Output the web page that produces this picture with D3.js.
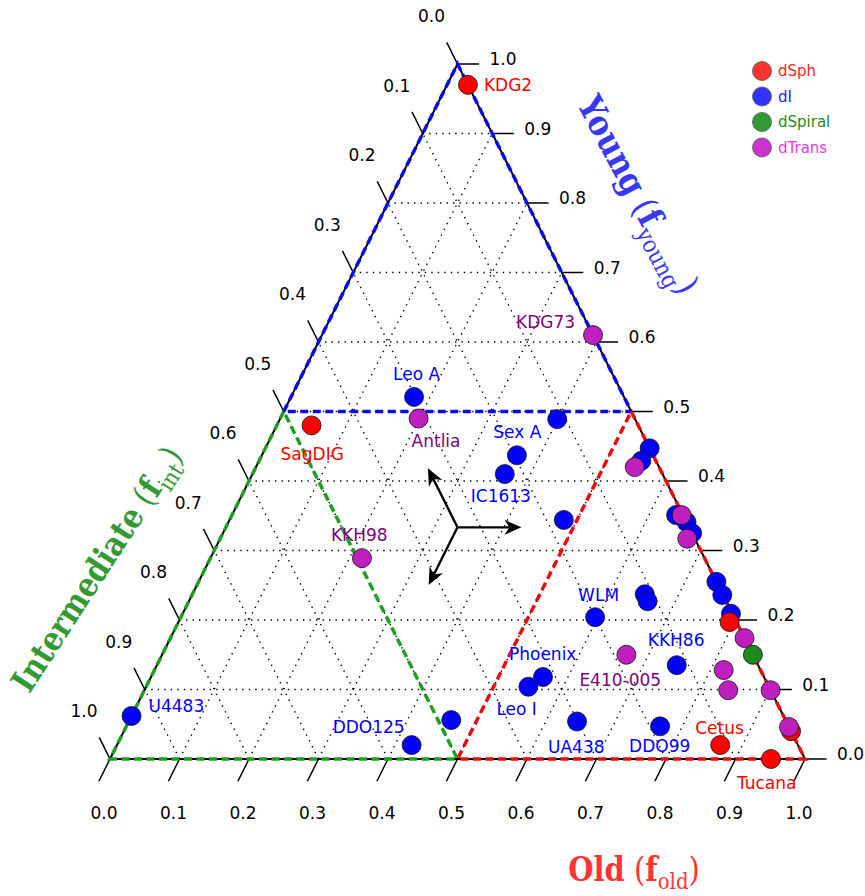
<!DOCTYPE html>
<html><head><meta charset="utf-8">
<script src="https://cdn.jsdelivr.net/npm/d3@7"></script>
<style>body{margin:0;background:#fff;} svg{display:block;}</style>
</head><body>
<svg id="chart" width="865" height="896"></svg>
<script>
// ---------------- data ----------------
const galaxyNames = ["KDG2","SagDIG","","Cetus","Tucana","",
  "",
  "KDG73","Antlia","KKH98","","","","E410-005","","","","","",
  "U4483","Leo A","Sex A","","IC1613","","","","","","","","","","WLM","","","KKH86","Phoenix","Leo I","","DDO125","UA438","DDO99"];
const galaxyTypes = ["dSph","dSph","dSph","dSph","dSph","dSph",
  "dSpiral",
  "dTrans","dTrans","dTrans","dTrans","dTrans","dTrans","dTrans","dTrans","dTrans","dTrans","dTrans","dTrans",
  "dI","dI","dI","dI","dI","dI","dI","dI","dI","dI","dI","dI","dI","dI","dI","dI","dI","dI","dI","dI","dI","dI","dI","dI"];
const fYoung = [0.97,0.48,0.197,0.02,0.0,0.04,
  0.15,
  0.61,0.49,0.289,0.42,0.351,0.317,0.15,0.174,0.128,0.099,0.099,0.046,
  0.062,0.521,0.489,0.437,0.41,0.344,0.447,0.429,0.351,0.341,0.325,0.255,0.236,0.209,0.204,0.237,0.227,0.135,0.118,0.104,0.056,0.02,0.054,0.047];
const fOld = [0.03,0.05,0.793,0.868,0.951,0.96,
  0.85,
  0.39,0.199,0.218,0.545,0.647,0.672,0.668,0.826,0.819,0.84,0.901,0.954,
  0.0,0.177,0.399,0.367,0.363,0.481,0.553,0.55,0.639,0.659,0.675,0.745,0.763,0.789,0.596,0.651,0.66,0.748,0.564,0.55,0.463,0.424,0.645,0.768];
const fInt = [0.0,0.47,0.01,0.112,0.049,0.0,
  0.0,
  0.0,0.311,0.493,0.035,0.002,0.011,0.182,0.0,0.053,0.061,0.0,0.0,
  0.938,0.302,0.112,0.196,0.227,0.175,0.0,0.021,0.01,0.0,0.0,0.0,0.001,0.002,0.2,0.112,0.113,0.117,0.318,0.346,0.481,0.556,0.301,0.185];
const typeNames = ["dSph","dI","dSpiral","dTrans"];
const tickValues = [0,0.1,0.2,0.3,0.4,0.5,0.6,0.7,0.8,0.9,1.0];
const tickLabels = ["0.0","0.1","0.2","0.3","0.4","0.5","0.6","0.7","0.8","0.9","1.0"];
const gridValues = [0.1,0.2,0.3,0.4,0.5,0.6,0.7,0.8,0.9];

// ---------------- styles / layout ----------------
const markerColor = {dSph:"#ff0000", dI:"#0000ff", dSpiral:"#1f8a1f", dTrans:"#bf1fbf"};
const labelColor  = {dSph:"#ff0000", dI:"#0000ff", dSpiral:"#008000", dTrans:"#800080"};
const legendMarker = {dSph:"#ff3333", dI:"#3333ff", dSpiral:"#339933", dTrans:"#cc33cc"};
const legendText = {dSph:"#ff2222", dI:"#2222ff", dSpiral:"#228b22", dTrans:"#ee33ee"};
const drawOrder = ["dI","dSph","dTrans","dSpiral"];
const labelOffset = {
  "KDG2":[16,0,"start"], "SagDIG":[-31,29,"start"], "Leo A":[-21,-23,"start"], "Antlia":[-7,23,"start"],
  "Sex A":[-64,13,"start"], "IC1613":[-34,22,"start"], "KKH98":[-31,-23,"start"], "KDG73":[-77,-13,"start"],
  "U4483":[17,-10,"start"], "WLM":[-17,-22,"start"], "KKH86":[-29,-25,"start"], "Phoenix":[-34,-23,"start"],
  "E410-005":[-47,25,"start"], "Leo I":[-32,22,"start"], "DDO125":[-79,-18,"start"], "UA438":[-29,26,"start"],
  "DDO99":[-31,20,"start"], "Cetus":[-25,-17,"start"], "Tucana":[-34,24,"start"]
};

const svg = d3.select("#chart");
const x = d3.scaleLinear().domain([0,1]).range([110,805]);
const y = d3.scaleLinear().domain([0,1]).range([759,64]);
// position from (young, old)
function P(young, old){ return [x(old + young/2), y(young)]; }
const line = d3.line();

// ---------------- grid ----------------
const grid = svg.append("g").attr("stroke","#000").attr("stroke-width",1.4)
  .attr("stroke-dasharray","1.4,5.1").attr("fill","none");
gridValues.forEach(f=>{
  grid.append("path").attr("d", line([P(f,0), P(f,1-f)]));
  grid.append("path").attr("d", line([P(0,f), P(1-f,f)]));
  grid.append("path").attr("d", line([P(0,1-f), P(1-f,0)]));
});

// ---------------- triangle ----------------
svg.append("path").attr("d", line([P(0,0),P(1,0),P(0,1)])+"Z")
  .attr("fill","none").attr("stroke","#000").attr("stroke-width",2);

// ---------------- ticks ----------------
const ticks = svg.append("g").attr("stroke","#000").attr("stroke-width",1.5);
const tl = svg.append("g").attr("font-family","'DejaVu Sans', sans-serif").attr("font-size",17).attr("fill","#000");
tickValues.forEach((v,i)=>{
  // Old (bottom)
  let a = P(0,v), b = P(-0.032, v);
  ticks.append("line").attr("x1",a[0]).attr("y1",a[1]).attr("x2",b[0]).attr("y2",b[1]);
  tl.append("text").attr("x",a[0]-6).attr("y",a[1]+54).attr("text-anchor","middle")
    .attr("dominant-baseline","central").text(tickLabels[i]);
  // Young (right)
  a = P(v,1-v); b = P(v,1-v+0.031);
  ticks.append("line").attr("x1",a[0]).attr("y1",a[1]).attr("x2",b[0]).attr("y2",b[1]);
  tl.append("text").attr("x",a[0]+32).attr("y",a[1]-5).attr("text-anchor","start")
    .attr("dominant-baseline","central").text(tickLabels[i]);
  // Intermediate (left): int = v
  a = P(1-v,0); b = P(1-v+0.031,-0.031);
  ticks.append("line").attr("x1",a[0]).attr("y1",a[1]).attr("x2",b[0]).attr("y2",b[1]);
  tl.append("text").attr("x",a[0]-26).attr("y",a[1]-48).attr("text-anchor","middle")
    .attr("dominant-baseline","central").text(tickLabels[i]);
});

// ---------------- region outlines ----------------
function region(pts, color){
  svg.append("path").attr("d", line(pts)+"Z").attr("fill","none")
    .attr("stroke",color).attr("stroke-width",3.5).attr("stroke-dasharray","8,4.5");
}
region([P(0.5,0),P(1,0),P(0.5,0.5)], "#0a0aee");
region([P(0.5,0),P(0,0),P(0,0.5)], "#1ea01e");
region([P(0.5,0.5),P(0,1),P(0,0.5)], "#ee0a0a");

// ---------------- arrows ----------------
const arrowG = svg.append("g");
const c = [1/3,1/3];
const arrowTips = [[1/3, 1/3+0.092],[1/3+0.085, 1/3-0.085],[1/3-0.083, 1/3]];
arrowTips.forEach(t=>{
  const p0 = P(c[0],c[1]), p1 = P(t[0],t[1]);
  const dx = p1[0]-p0[0], dy = p1[1]-p0[1], L = Math.hypot(dx,dy);
  const ux = dx/L, uy = dy/L, nx = -uy, ny = ux;
  const hl = 17, hw = 7.5, back = 12;
  arrowG.append("line").attr("x1",p0[0]).attr("y1",p0[1])
    .attr("x2",p1[0]-ux*back).attr("y2",p1[1]-uy*back).attr("stroke","#000").attr("stroke-width",2.4);
  const base = [p1[0]-ux*hl, p1[1]-uy*hl];
  const notch = [p1[0]-ux*(hl-5), p1[1]-uy*(hl-5)];
  arrowG.append("path").attr("d", line([p1,[base[0]+nx*hw, base[1]+ny*hw], notch, [base[0]-nx*hw, base[1]-ny*hw]])+"Z")
    .attr("fill","#000");
});

// ---------------- points ----------------
const idx = d3.range(galaxyNames.length)
  .sort((a,b)=> drawOrder.indexOf(galaxyTypes[a]) - drawOrder.indexOf(galaxyTypes[b]) || a-b);
const pts = svg.append("g");
idx.forEach(i=>{
  const tot = fYoung[i]+fOld[i]+fInt[i];
  const p = P(fYoung[i]/tot, fOld[i]/tot);
  pts.append("circle").attr("cx",p[0]).attr("cy",p[1]).attr("r",9.5)
    .attr("fill",markerColor[galaxyTypes[i]]).attr("stroke","#111").attr("stroke-width",0.8);
});
const labs = svg.append("g").attr("font-family","'DejaVu Sans', sans-serif").attr("font-size",17);
galaxyNames.forEach((n,i)=>{
  if(!n) return;
  const tot = fYoung[i]+fOld[i]+fInt[i];
  const p = P(fYoung[i]/tot, fOld[i]/tot);
  const o = labelOffset[n];
  labs.append("text").attr("x",p[0]+o[0]).attr("y",p[1]+o[1]).attr("text-anchor",o[2])
    .attr("dominant-baseline","central").attr("fill",labelColor[galaxyTypes[i]]).text(n);
});

// ---------------- legend ----------------
const lg = svg.append("g");
typeNames.forEach((t,k)=>{
  const yy = 71 + k*25.5;
  lg.append("circle").attr("cx",762).attr("cy",yy).attr("r",9.5)
    .attr("fill",legendMarker[t]).attr("stroke","#555").attr("stroke-width",0.8);
  lg.append("text").attr("x",778).attr("y",yy).attr("dominant-baseline","central")
    .attr("font-family","'DejaVu Sans', sans-serif").attr("font-size",15)
    .attr("fill",legendText[t]).text(t);
});

// ---------------- axis titles ----------------
function title(g, main, sub, color, size){
  const t = g.append("text").attr("text-anchor","middle").attr("fill",color)
    .attr("font-family","'DejaVu Serif', serif");
  t.append("tspan").attr("font-weight","bold").attr("font-size",size).text(main);
  t.append("tspan").attr("font-size",size).text(" (");
  t.append("tspan").attr("font-weight","bold").attr("font-size",size).text("f");
  t.append("tspan").attr("font-size",size*0.68).attr("dy",size*0.25).text(sub);
  t.append("tspan").attr("font-size",size).attr("dy",-size*0.25).text(")");
  return t;
}
title(svg.append("g").attr("transform","translate(638,195) rotate(62) scale(1.03,1.15)"), "Young","young","#3838f0",30).attr("y",10);
title(svg.append("g").attr("transform","translate(97,569) rotate(-57) scale(1,1.15)"), "Intermediate","int","#339933",29).attr("y",10);
title(svg.append("g").attr("transform","translate(634,881) scale(1,1.15)"), "Old","old","#ff3333",29);
</script>
</body></html>
